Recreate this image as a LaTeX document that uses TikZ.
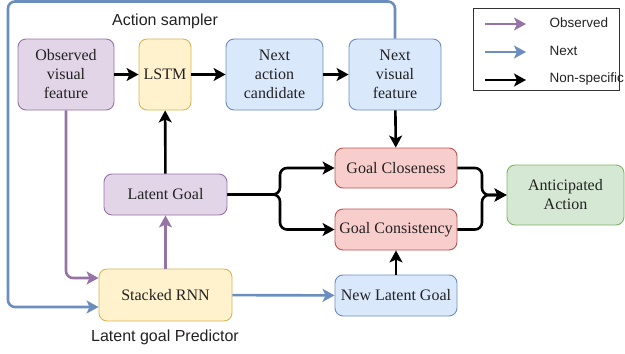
\documentclass[tikz,border=0pt]{standalone}
\usepackage{fontspec}
\setmainfont{Liberation Serif}
\setsansfont{Liberation Sans}
\usetikzlibrary{arrows.meta,calc}
\definecolor{pF}{HTML}{E1D5E7}\definecolor{pD}{HTML}{9673A6}
\definecolor{yF}{HTML}{FFF2CC}\definecolor{yD}{HTML}{D6B656}
\definecolor{bF}{HTML}{DAE8FC}\definecolor{bD}{HTML}{6C8EBF}
\definecolor{rF}{HTML}{F8CECC}\definecolor{rD}{HTML}{B85450}
\definecolor{gF}{HTML}{D5E8D4}\definecolor{gD}{HTML}{82B366}
\definecolor{txt}{HTML}{222222}
\tikzset{
  box/.style={draw, rounded corners=8pt, line width=0.9pt, align=center, inner sep=2pt,
    text=txt, font=\fontsize{16}{19}\selectfont},
  pbox/.style={box, fill=pF, draw=pD},
  ybox/.style={box, fill=yF, draw=yD},
  bbox/.style={box, fill=bF, draw=bD},
  rbox/.style={box, fill=rF, draw=rD},
  gbox/.style={box, fill=gF, draw=gD},
  arr/.style={line width=2.6pt, -{Stealth[length=12pt,width=13pt,inset=3pt]}, rounded corners=7pt},
  blk/.style={arr, draw=black},
  prp/.style={arr, draw=pD},
  blu/.style={arr, draw=bD},
  lab/.style={font=\sffamily\fontsize{16}{19}\selectfont, text=txt},
  leg/.style={font=\sffamily\fontsize{13.5}{16}\selectfont, text=txt, anchor=west}
}
\begin{document}
\begin{tikzpicture}[x=1pt,y=-1pt]
\useasboundingbox (0,0) rectangle (625,354);
% nodes
\node[pbox, minimum width=96pt, minimum height=71pt] (obs) at (66,74.5) {Observed\\visual\\feature};
\node[ybox, minimum width=52pt, minimum height=71pt] (lstm) at (165,74.5) {LSTM};
\node[bbox, minimum width=97pt, minimum height=71pt] (nac) at (274.5,74.5) {Next\\action\\candidate};
\node[bbox, minimum width=92pt, minimum height=71pt] (nvf) at (395,74.5) {Next\\visual\\feature};
\node[pbox, minimum width=123pt, minimum height=41pt] (lg) at (165.5,194.5) {Latent Goal};
\node[ybox, minimum width=133pt, minimum height=52pt] (srnn) at (165.5,295) {Stacked RNN};
\node[rbox, minimum width=122pt, minimum height=40pt] (gcl) at (396,168) {Goal Closeness};
\node[rbox, minimum width=122pt, minimum height=41pt] (gcs) at (396,229.5) {Goal Consistency};
\node[bbox, minimum width=122pt, minimum height=41pt] (nlg) at (396,295.5) {New Latent Goal};
\node[gbox, minimum width=117pt, minimum height=60pt] (aa) at (565.5,195) {Anticipated\\Action};
\node[lab] (t1) at (165,21) {Action sampler};
\node[lab] (t2) at (165,337) {Latent goal Predictor};
% corner coordinates
\coordinate (tr) at (395,1.5);
\coordinate (tl) at (8,1.5);
\coordinate (lgfork) at (280,194.5);
\coordinate (aajoin) at (482,195);
% connectors
\draw[blu, rounded corners=7pt] (nvf.north) -- (tr) -- (tl) |- ([yshift=-12pt]srnn.west);
\draw[prp] (obs.south) |- ([yshift=17pt]srnn.west);
\draw[blk] (obs) -- (lstm);
\draw[blk] (lstm) -- (nac);
\draw[blk] (nac) -- (nvf);
\draw[blk] (nvf) -- (gcl);
\draw[blk] (lg) -- (lstm);
\draw[prp] (srnn) -- (lg);
\draw[blu] (srnn) -- (nlg);
\draw[blk] (nlg) -- (gcs);
\draw[blk] (lg.east) -- (lgfork) |- (gcl.west);
\draw[blk] (lg.east) -- (lgfork) |- (gcs.west);
\draw[blk] (gcl.east) -| (aajoin) -- (aa.west);
\draw[blk] (gcs.east) -| (aajoin) -- (aa.west);
% legend
\node[draw=black!80, line width=0.8pt, minimum width=146pt, minimum height=82pt, inner sep=0pt] (legbox) at (546,49) {};
\coordinate (la1) at (485,24); \coordinate (lb1) at (526,24);
\coordinate (la2) at (485,52); \coordinate (lb2) at (526,52);
\coordinate (la3) at (485,80); \coordinate (lb3) at (526,80);
\draw[prp, line width=2pt] (la1) -- (lb1);
\draw[blu, line width=2pt] (la2) -- (lb2);
\draw[blk, line width=2pt] (la3) -- (lb3);
\node[leg] (l1) at (546,23) {Observed};
\node[leg] (l2) at (546,51) {Next};
\node[leg] (l3) at (546,79) {Non-specific};
\end{tikzpicture}
\end{document}
